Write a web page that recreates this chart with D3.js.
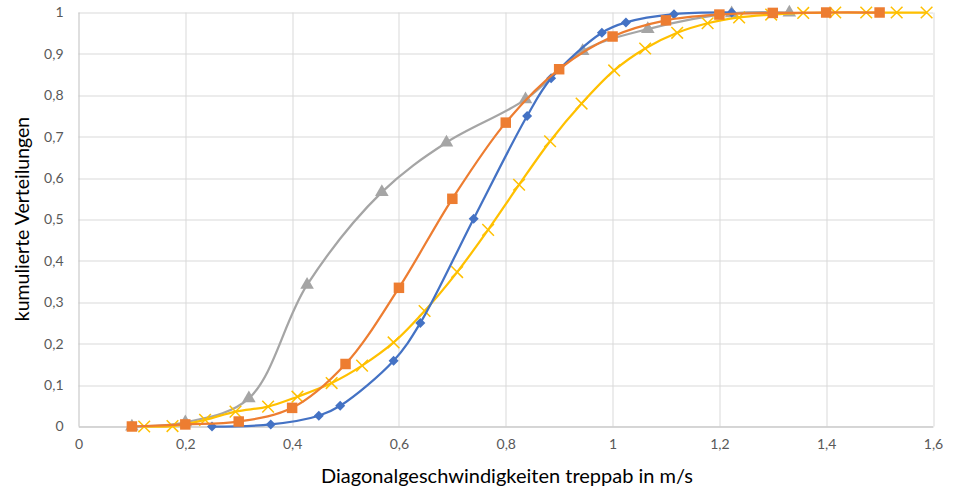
<!DOCTYPE html>
<html>
<head>
<meta charset="utf-8">
<script src="https://cdn.jsdelivr.net/npm/d3@7"></script>
<style>
  body { margin: 0; background: #fff; }
  svg text { font-family: Lato, "Open Sans", sans-serif; }
</style>
</head>
<body>
<div id="chart"></div>
<script>
//Datos
const blueX   = [0.25, 0.36, 0.45, 0.49, 0.59, 0.64, 0.74, 0.84, 0.885, 0.98, 1.025, 1.115, 1.223];
const blueY   = [0, 0.005, 0.026, 0.05, 0.159, 0.25, 0.502, 0.75, 0.841, 0.951, 0.976, 0.996, 1];

const orangeX = [0.1, 0.2, 0.3, 0.4, 0.5, 0.6, 0.7, 0.8, 0.9, 1.0, 1.1, 1.2, 1.3, 1.4, 1.5];
const orangeY = [0, 0.005, 0.012, 0.045, 0.151, 0.335, 0.55, 0.734, 0.863, 0.942, 0.981, 0.995, 0.999, 1, 1];

const grayX   = [0.1, 0.2, 0.319, 0.428, 0.568, 0.689, 0.837, 0.944, 1.066, 1.223, 1.331];
const grayY   = [0, 0.01, 0.068, 0.342, 0.566, 0.686, 0.79, 0.907, 0.96, 0.998, 1];

const yellowX = [0.123, 0.176, 0.237, 0.294, 0.355, 0.41, 0.474, 0.531, 0.59, 0.648, 0.709, 0.767, 0.825, 0.883, 0.942, 1.003, 1.061, 1.121, 1.178, 1.237, 1.297, 1.357, 1.417, 1.475, 1.532, 1.588];
const yellowY = [0, 0.001, 0.016, 0.036, 0.048, 0.072, 0.105, 0.147, 0.203, 0.279, 0.373, 0.475, 0.584, 0.689, 0.78, 0.86, 0.913, 0.951, 0.974, 0.988, 0.995, 0.999, 1, 1, 1, 1];

const xTicks = [0, 0.2, 0.4, 0.6, 0.8, 1, 1.2, 1.4, 1.6];
const yTicks = [0, 0.1, 0.2, 0.3, 0.4, 0.5, 0.6, 0.7, 0.8, 0.9, 1];

const xTitle = 'Diagonalgeschwindigkeiten treppab in m/s';
const yTitle = 'kumulierte Verteilungen';

//Series: orden de dibujo
const series = [
    { name: 'gray',   xs: grayX,   ys: grayY,   color: '#A5A5A5', marker: 'triangle' },
    { name: 'yellow', xs: yellowX, ys: yellowY, color: '#FFC000', marker: 'cross' },
    { name: 'blue',   xs: blueX,   ys: blueY,   color: '#4472C4', marker: 'diamond' },
    { name: 'orange', xs: orangeX, ys: orangeY, color: '#ED7D31', marker: 'square' }
];

const W = 959, H = 488;
const margin = { top: 12.5, right: 26, bottom: 61.5, left: 78.5 };
const width = W - margin.left - margin.right,
      height = H - margin.top - margin.bottom;

const svg = d3.select('#chart').append('svg')
    .attr('width', W).attr('height', H);

const g = svg.append('g')
    .attr('transform', 'translate(' + margin.left + ',' + margin.top + ')');

const x = d3.scaleLinear().domain([0, 1.6]).range([0, width]);
const y = d3.scaleLinear().domain([0, 1]).range([height, 0]);

const fmt = d => String(d).replace('.', ',');

//Rejilla
g.append('g').selectAll('line').data(yTicks).enter().append('line')
    .attr('x1', 0).attr('x2', width)
    .attr('y1', d => Math.round(y(d)) + 0.5).attr('y2', d => Math.round(y(d)) + 0.5)
    .attr('stroke', '#d9d9d9').attr('stroke-width', 1);

g.append('g').selectAll('line').data(xTicks).enter().append('line')
    .attr('x1', d => Math.round(x(d)) + 0.5).attr('x2', d => Math.round(x(d)) + 0.5)
    .attr('y1', 0).attr('y2', height)
    .attr('stroke', d => d === 0 ? '#bfbfbf' : '#d9d9d9').attr('stroke-width', 1);

//Ejes
const xAxis = g.append('g')
    .attr('transform', 'translate(0,' + height + ')')
    .call(d3.axisBottom(x).tickValues(xTicks).tickFormat(fmt).tickSize(0).tickPadding(13));
xAxis.select('.domain').attr('stroke', '#bfbfbf');
xAxis.selectAll('text').attr('font-size', 14).attr('fill', '#595959');

const yAxis = g.append('g')
    .call(d3.axisLeft(y).tickValues(yTicks).tickFormat(fmt).tickSize(0).tickPadding(15));
yAxis.select('.domain').remove();
yAxis.selectAll('text').attr('font-size', 14).attr('fill', '#595959');

//Títulos de ejes
svg.append('text')
    .attr('x', 507).attr('y', 483)
    .attr('text-anchor', 'middle')
    .attr('font-size', 20).attr('fill', '#000')
    .text(xTitle);

svg.append('text')
    .attr('transform', 'translate(29,' + 219 + ') rotate(-90)')
    .attr('text-anchor', 'middle')
    .attr('font-size', 19.5).attr('fill', '#000')
    .text(yTitle);

//Líneas suavizadas
const line = d3.line()
    .x(d => x(d[0]))
    .y(d => y(d[1]))
    .curve(d3.curveCatmullRom.alpha(0.5));

const symbols = {
    triangle: d3.symbol().type(d3.symbolTriangle).size(80),
    diamond: d3.symbol().type(d3.symbolSquare).size(50),
    square: d3.symbol().type(d3.symbolSquare).size(110),
    cross: d3.symbol().type(d3.symbolX).size(90)
};

series.forEach(function(s) {
    const pts = s.xs.map((v, i) => [v, s.ys[i]]);
    const sg = g.append('g').attr('class', 'serie-' + s.name);

    sg.append('path')
        .datum(pts)
        .attr('fill', 'none')
        .attr('stroke', s.color)
        .attr('stroke-width', 2.25)
        .attr('d', line);

    sg.selectAll('path.marker').data(pts).enter().append('path')
        .attr('class', 'marker')
        .attr('transform', d => 'translate(' + x(d[0]) + ',' + y(d[1]) + ')' + (s.marker === 'diamond' ? ' rotate(45)' : ''))
        .attr('d', symbols[s.marker]())
        .attr('fill', s.marker === 'cross' ? 'none' : s.color)
        .attr('stroke', s.color)
        .attr('stroke-width', s.marker === 'cross' ? 1.5 : 0);
});
</script>
</body>
</html>
